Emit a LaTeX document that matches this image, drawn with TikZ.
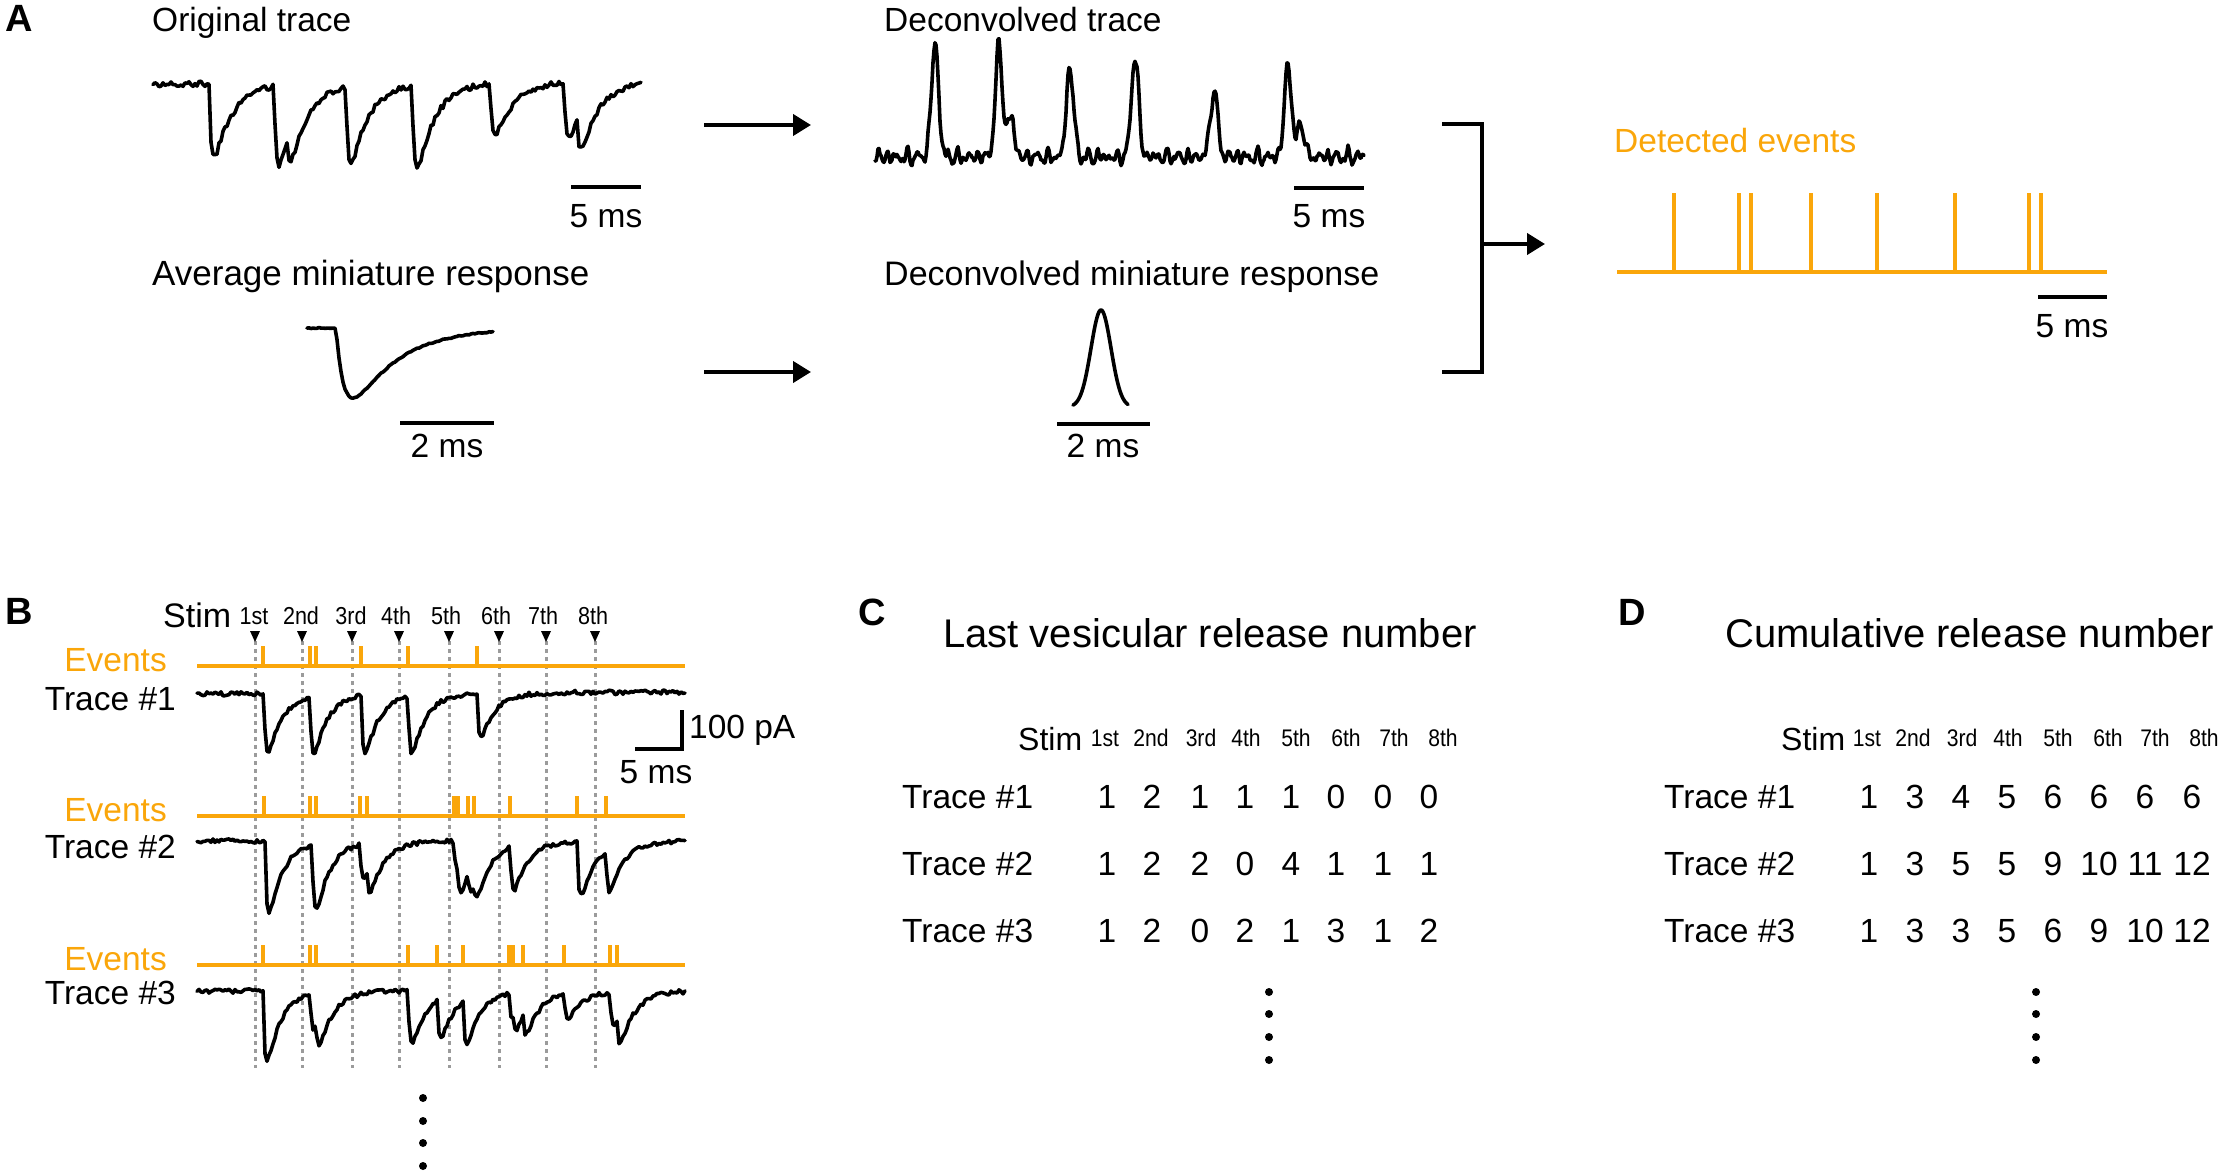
\documentclass[tikz,border=0pt]{standalone}
\usepackage{fontspec}
\setmainfont{Liberation Sans}
\newfontfamily\narrowf{Liberation Sans}[FakeStretch=0.88]
\usetikzlibrary{arrows.meta}
\definecolor{evor}{RGB}{250,166,10}
\definecolor{dashgray}{RGB}{155,155,155}
\begin{document}
\pgfmathsetseed{7}
\begin{tikzpicture}[x=1pt,y=-1pt,
  declare function={
    psc(\xa,\xr)=(\xa>0)*(1-exp(-min(max(\xa,0)/\xr,9)))*exp(-min(max(\xa,0)/(8*\xr),9))/0.675;
    gs(\xa,\xs)=exp(-min(abs(\xa)/\xs,4.2)^2/2);
    nz(\xa)=4*sin(36*mod(\xa,10))+3*sin(51.43*mod(\xa,7)+20)+2*sin(72*mod(\xa,5)+50)+2.5*sin(27.69*mod(\xa,13)+10);
  },
  txt/.style={inner sep=0pt, font=\fontsize{33.5}{40}\selectfont},
  ttl/.style={inner sep=0pt, font=\fontsize{40}{48}\selectfont},
  lab/.style={inner sep=0pt, font=\fontsize{38}{44}\selectfont\bfseries},
  ordb/.style={inner sep=0pt, font=\narrowf\fontsize{24.5}{28}\selectfont},
  ordc/.style={inner sep=0pt, font=\narrowf\fontsize{24}{28}\selectfont},
  stimb/.style={inner sep=0pt, font=\fontsize{34}{40}\selectfont},
  stimc/.style={inner sep=0pt, font=\fontsize{32}{38}\selectfont},
  trace/.style={line width=3.6pt, line join=round, line cap=round},
  bar/.style={line width=4pt},
  evline/.style={evor, line width=4pt},
  evtick/.style={evor, line width=3.5pt},
  conn/.style={line width=4pt, -{Triangle[length=18pt,width=21pt]}},
  stimdash/.style={dashgray, line width=3pt, dash pattern=on 4pt off 4pt},
  dotc/.style={fill=black, draw=none},
]
\useasboundingbox (0,0) rectangle (2223,1174);

% ================= Panel A =================
\node[lab, anchor=base west] (labA) at (5,32) {A};
\node[txt, anchor=base west] (tOrig) at (152,32) {Original trace};
\node[txt, anchor=base west] (tDec) at (884,32) {Deconvolved trace};
\node[txt, anchor=base west, font=\fontsize{35}{40}\selectfont] (tAvg) at (152,285) {Average miniature response};
\node[txt, anchor=base west, font=\fontsize{34}{40}\selectfont] (tDmini) at (884,285) {Deconvolved miniature response};
\node[txt, anchor=base west, text=evor] (tDet) at (1614,153) {Detected events};

% original trace
\draw[trace] plot[domain=153:641, samples=245]
  (\x,{84 - 0.006*(\x-153) + 73*psc(\x-209,2.3) + 80*psc(\x-274,2.3) + 30*psc(\x-287,2.3)
   + 77*psc(\x-346,2.3) + 83*psc(\x-412,2.3) + 52*psc(\x-490,2.3) + 55*psc(\x-564,2.3)
   + 35*psc(\x-577,2.3) + 2.8*rand});
\draw[bar] (571,187) -- (641,187);
\node[txt, anchor=base] (sbA1) at (606,228) {5 ms};

% average miniature
\draw[trace] plot[domain=307:493, samples=94]
  (\x,{328 + 125*(1-exp(-min(max(\x-336,0)/10,9)))*exp(-min(max(\x-336,0)/45,9)) + 0.6*rand});
\draw[bar] (400,423) -- (494,423);
\node[txt, anchor=base] (sbA2) at (447,457) {2 ms};

% deconvolved trace
\draw[trace] plot[domain=875:1364, samples=490]
  (\x,{157 - 112*gs(\x-935,3.6) - 110*gs(\x-999,3.6) - 42*gs(\x-1011,3.2) - 89*gs(\x-1070,3.6)
   - 101*gs(\x-1135,3.6) - 67*gs(\x-1214,3.6) - 92*gs(\x-1288,3.6) - 35*gs(\x-1301,3.2)
   + nz(\x) + 1.5*rand});
\draw[bar] (1294,188) -- (1364,188);
\node[txt, anchor=base] (sbA3) at (1329,228) {5 ms};

% deconvolved miniature
\draw[trace] plot[domain=1073:1128, samples=56]
  (\x,{407 - 97*gs(\x-1101,10)});
\draw[bar] (1057,424) -- (1150,424);
\node[txt, anchor=base] (sbA4) at (1103,457) {2 ms};

% arrows
\coordinate (a1s) at (704,125); \coordinate (a1e) at (811,125);
\coordinate (a2s) at (704,372); \coordinate (a2e) at (811,372);
\draw[conn] (a1s) -- (a1e);
\draw[conn] (a2s) -- (a2e);
% bracket
\coordinate (brT) at (1442,124); \coordinate (brB) at (1442,372);
\coordinate (brM) at (1482,244); \coordinate (brE) at (1545,244);
\draw[line width=4pt] (brT) -- (1482,124) -- (1482,372) -- (brB);
\draw[conn] (brM) -- (brE);

% detected events
\draw[evline] (1617,272) -- (2107,272);
\foreach \t in {1674,1739,1751,1811,1877,1955,2029,2041}
  \draw[evtick] (\t,272) -- (\t,193);
\draw[bar] (2038,297) -- (2107,297);
\node[txt, anchor=base] (sbA5) at (2072,337) {5 ms};

% ================= Panel B =================
\node[lab, anchor=base west] (labB) at (5,624) {B};
\node[stimb, anchor=base west] (stimB) at (163,627) {Stim};
\foreach \o/\xo/\xt [count=\i] in {1st/254/255,2nd/301/302,3rd/351/352,4th/396/399,5th/446/449,6th/496/499,7th/543/546,8th/593/595}{
  \node[ordb, anchor=base] (ordB\i) at (\xo,624) {\o};
  \draw[stimdash] (\xt,641) -- (\xt,1068);
  \fill (\xt-5,631) -- (\xt+5,631) -- (\xt,642) -- cycle;
}
% event rows
\foreach \yy/\k in {666/1,816/2,965/3}{
  \node[txt, anchor=base east, text=evor] (evB\k) at (167,\yy+5) {Events};
  \draw[evline] (197,\yy) -- (685,\yy);
}
\foreach \t in {263,310,316,361,408,477}
  \draw[evtick] (\t,666) -- (\t,646);
\foreach \t in {264,310,316,360,367,454,458,468,474,510,577,606}
  \draw[evtick] (\t,816) -- (\t,796);
\foreach \t in {263,310,316,408,437,463,509,513,523,564,610,617}
  \draw[evtick] (\t,965) -- (\t,945);

\node[txt, anchor=base east] (trB1) at (176,710) {Trace \#1};
\node[txt, anchor=base east] (trB2) at (176,858) {Trace \#2};
\node[txt, anchor=base east] (trB3) at (176,1004) {Trace \#3};

\draw[trace] plot[domain=197:685, samples=245]
  (\x,{694 - 0.004*(\x-197) + 59*psc(\x-264,1.8) + 57*psc(\x-310,1.8) + 59*psc(\x-361,1.8)
   + 57*psc(\x-408,1.8) + 43*psc(\x-477,1.8) + 2.2*rand});
\draw[trace] plot[domain=197:685, samples=245]
  (\x,{841 + 72*psc(\x-265,1.8) + 66*psc(\x-312,1.8) + 35*psc(\x-360,1.8) + 25*psc(\x-367,1.8)
   + 30*psc(\x-454,1.8) + 25*psc(\x-458,1.8) + 22*psc(\x-468,1.8) + 22*psc(\x-474,1.8)
   + 44*psc(\x-510,1.8) + 54*psc(\x-577,1.8) + 42*psc(\x-606,1.8) + 2.2*rand});
\draw[trace] plot[domain=197:685, samples=245]
  (\x,{991 + 70*psc(\x-263,1.8) + 35*psc(\x-310,1.8) + 25*psc(\x-316,1.8) + 52*psc(\x-408,1.8)
   + 40*psc(\x-437,1.8) + 44*psc(\x-463,1.8) + 25*psc(\x-509,1.8) + 15*psc(\x-513,1.8)
   + 22*psc(\x-523,1.8) + 25*psc(\x-564,1.8) + 35*psc(\x-610,1.8) + 27*psc(\x-617,1.8)
   + 2.2*rand});

% scale bar B
\draw[line width=4pt] (635,749) -- (682,749) -- (682,710);
\node[txt, anchor=base west] (sbB1) at (689,738) {100 pA};
\node[txt, anchor=base] (sbB2) at (656,783) {5 ms};

\foreach \yy in {1098,1121,1143,1166} \fill[dotc] (423,\yy) circle (4);

% ================= Panel C =================
\node[lab, anchor=base west] (labC) at (858,625) {C};
\node[ttl, anchor=base west] (ttlC) at (943,647) {Last vesicular release number};
\node[stimc, anchor=base west] (stimC) at (1018,750) {Stim};
\foreach \o/\xo [count=\i] in {1st/1105,2nd/1151,3rd/1201,4th/1246,5th/1296,6th/1346,7th/1394,8th/1443}
  \node[ordc, anchor=base] (ordC\i) at (\xo,746) {\o};
\node[txt, anchor=base west] (trC1) at (902,808) {Trace \#1};
\node[txt, anchor=base west] (trC2) at (902,875) {Trace \#2};
\node[txt, anchor=base west] (trC3) at (902,942) {Trace \#3};
\foreach \v/\xo [count=\j] in {1/1107,2/1152,1/1200,1/1245,1/1291,0/1336,0/1383,0/1429}
  \node[txt, anchor=base] (cA\j) at (\xo,808) {\v};
\foreach \v/\xo [count=\j] in {1/1107,2/1152,2/1200,0/1245,4/1291,1/1336,1/1383,1/1429}
  \node[txt, anchor=base] (cB\j) at (\xo,875) {\v};
\foreach \v/\xo [count=\j] in {1/1107,2/1152,0/1200,2/1245,1/1291,3/1336,1/1383,2/1429}
  \node[txt, anchor=base] (cC\j) at (\xo,942) {\v};
\foreach \yy in {992,1014,1037,1060} \fill[dotc] (1269,\yy) circle (4);

% ================= Panel D =================
\node[lab, anchor=base west] (labD) at (1618,625) {D};
\node[ttl, anchor=base west] (ttlD) at (1725,647) {Cumulative release number};
\node[stimc, anchor=base west] (stimD) at (1781,750) {Stim};
\foreach \o/\xo [count=\i] in {1st/1867,2nd/1913,3rd/1962,4th/2008,5th/2058,6th/2108,7th/2155,8th/2204}
  \node[ordc, anchor=base] (ordD\i) at (\xo,746) {\o};
\node[txt, anchor=base west] (trD1) at (1664,808) {Trace \#1};
\node[txt, anchor=base west] (trD2) at (1664,875) {Trace \#2};
\node[txt, anchor=base west] (trD3) at (1664,942) {Trace \#3};
\foreach \v/\xo [count=\j] in {1/1869,3/1915,4/1961,5/2007,6/2053,6/2099,6/2145,6/2192}
  \node[txt, anchor=base] (dA\j) at (\xo,808) {\v};
\foreach \v/\xo [count=\j] in {1/1869,3/1915,5/1961,5/2007,9/2053,10/2099,11/2145,12/2192}
  \node[txt, anchor=base] (dB\j) at (\xo,875) {\v};
\foreach \v/\xo [count=\j] in {1/1869,3/1915,3/1961,5/2007,6/2053,9/2099,10/2145,12/2192}
  \node[txt, anchor=base] (dC\j) at (\xo,942) {\v};
\foreach \yy in {992,1014,1037,1060} \fill[dotc] (2036,\yy) circle (4);
\end{tikzpicture}
\end{document}
